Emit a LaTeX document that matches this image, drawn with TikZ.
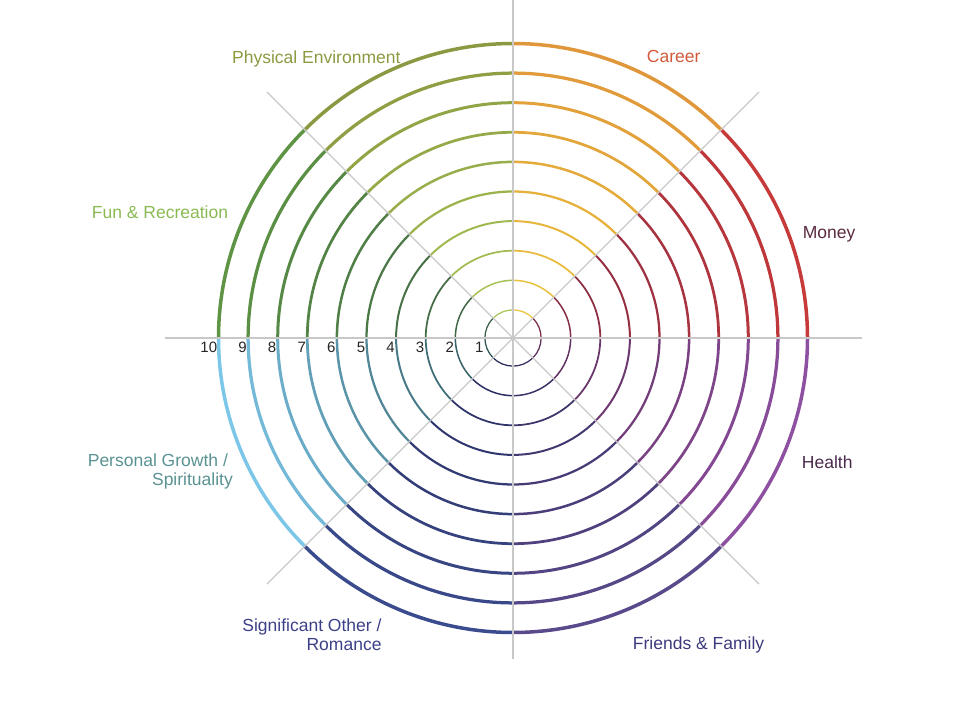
\documentclass[tikz,border=0pt]{standalone}
\usepackage{fontspec}
\setmainfont{Liberation Sans}
\definecolor{moneyIn}{HTML}{7E2A46}
\definecolor{moneyOut}{HTML}{C63A3A}
\definecolor{careerIn}{HTML}{EAC63C}
\definecolor{careerOut}{HTML}{E0963A}
\definecolor{physIn}{HTML}{AAC656}
\definecolor{physOut}{HTML}{8A9A42}
\definecolor{funIn}{HTML}{3C6248}
\definecolor{funOut}{HTML}{5E9444}
\definecolor{pgIn}{HTML}{2E5458}
\definecolor{pgOut}{HTML}{7CC6E8}
\definecolor{soIn}{HTML}{2A2C5E}
\definecolor{soOut}{HTML}{3A4C8E}
\definecolor{ffIn}{HTML}{3A2E62}
\definecolor{ffOut}{HTML}{5A4A8C}
\definecolor{healthIn}{HTML}{5E2E5A}
\definecolor{healthOut}{HTML}{8E50A0}
\definecolor{axisgray}{HTML}{C8C8C8}
\definecolor{tPhys}{HTML}{8A9A40}
\definecolor{tCareer}{HTML}{D25A38}
\definecolor{tMoney}{HTML}{5A2A40}
\definecolor{tHealth}{HTML}{4A2A4C}
\definecolor{tFF}{HTML}{3C3A7C}
\definecolor{tSO}{HTML}{3C4088}
\definecolor{tPG}{HTML}{5A9292}
\definecolor{tFun}{HTML}{8ABA52}
\begin{document}
\begin{tikzpicture}[x=1pt,y=1pt,
  axisline/.style={axisgray, line width=1.3pt},
  catlabel/.style={inner sep=0pt, font=\fontsize{17.5}{18.8}\selectfont},
  numlabel/.style={inner sep=0pt, anchor=base east, text=black!85, font=\fontsize{15}{15}\selectfont}]
\path[use as bounding box] (0,0) rectangle (955,707);
\coordinate (c) at (513,369);
% rings
\foreach \a/\ci/\co in {0/moneyIn/moneyOut, 45/careerIn/careerOut, 90/physIn/physOut, 135/funIn/funOut, 180/pgIn/pgOut, 225/soIn/soOut, 270/ffIn/ffOut, 315/healthIn/healthOut} {
  \foreach \k in {1,...,10} {
    \pgfmathsetmacro\r{29.6*\k-1.5}
    \pgfmathsetmacro\w{1.0+0.25*\k}
    \pgfmathtruncatemacro\p{round((\k-1)*100/9)}
    \colorlet{ringc}{\co!\p!\ci}
    \draw[line width=\w pt, ringc] ([shift={(\a:\r)}]c) arc[start angle=\a, end angle=\a+45, radius=\r];
  }
}
% axes
\coordinate (hl) at (165,369);
\coordinate (hr) at (862,369);
\coordinate (vt) at (513,712);
\coordinate (vb) at (513,48);
\draw[axisline] (hl) -- (hr);
\draw[axisline] (vt) -- (vb);
\draw[axisline] ([shift={(45:348)}]c) -- ([shift={(225:348)}]c);
\draw[axisline] ([shift={(135:348)}]c) -- ([shift={(315:348)}]c);
% numbers
\foreach \k in {1,...,10} {
  \pgfmathsetmacro\xx{513-(29.6*\k-1.5)-1.2}
  \node[numlabel] (n\k) at (\xx,354.7) {\k};
}
% category labels
\node[catlabel, anchor=base west, text=tPhys] (phys) at (232,643.7) {Physical Environment};
\node[catlabel, anchor=base west, text=tCareer] (career) at (646.7,644.5) {Career};
\node[catlabel, anchor=base west, text=tMoney] (money) at (802.7,468) {Money};
\node[catlabel, anchor=base west, text=tHealth] (health) at (801.7,238.7) {Health};
\node[catlabel, anchor=base west, text=tFF] (ff) at (632.7,57.7) {Friends \& Family};
\node[catlabel, anchor=base west, text=tFun] (fun) at (91.7,488) {Fun \& Recreation};
\node[catlabel, anchor=base east, align=right, text=tPG] (pg) at (233,221.3) {Personal Growth /\kern4.9pt\\Spirituality};
\node[catlabel, anchor=base east, align=right, text=tSO] (so) at (381.7,56.3) {Significant Other /\\Romance};
\end{tikzpicture}
\end{document}
